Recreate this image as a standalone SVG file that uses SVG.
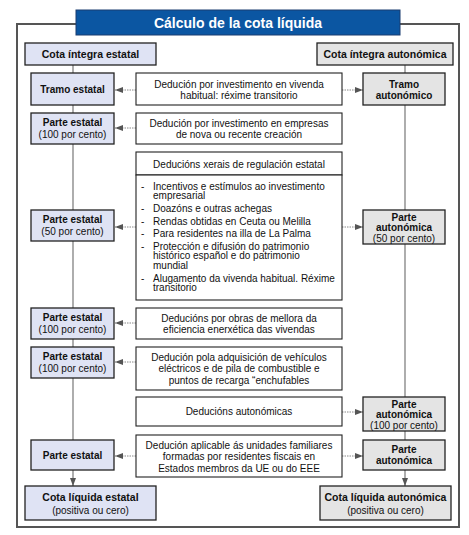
<svg xmlns="http://www.w3.org/2000/svg" width="469" height="535" viewBox="0 0 469 535">
<defs>
<style>
text{font-family:"Liberation Sans",Arial,sans-serif;fill:#111;}
.t{font-size:10px;text-anchor:middle;}
.l{font-size:10px;}
.b{font-size:10px;font-weight:bold;text-anchor:middle;}
.h{font-size:10.5px;font-weight:bold;text-anchor:middle;}
.est{fill:#dfe3f4;stroke:#222;stroke-width:1.3;}
.aut{fill:#e4e4e4;stroke:#222;stroke-width:1.3;}
.ded{fill:#fff;stroke:#222;stroke-width:1.1;}
.v{stroke:#777;stroke-width:1.2;fill:none;}
.d{stroke:#888;stroke-width:1;stroke-dasharray:1.5 1;fill:none;}
</style>
<marker id="ah" viewBox="0 0 8 6" refX="8" refY="3" markerWidth="8" markerHeight="6" markerUnits="userSpaceOnUse" orient="auto">
<path d="M0,0 L8,3 L0,6 z" fill="#555"/>
</marker>
</defs>
<rect width="469" height="535" fill="#fff"/>
<path d="M76,24 H17 V527 H459 V24 H400" fill="none" stroke="#555" stroke-width="2"/>
<g id="title">
<rect x="76" y="10" width="324" height="25" fill="#0b56a2" stroke="#1b3d70" stroke-width="1"/>
<text x="238" y="28" style="font-size:14px;font-weight:bold;fill:#fff;text-anchor:middle">Cálculo de la cota líquida</text>
</g>
<g id="connectors">
<line class="v" x1="73" y1="65" x2="73" y2="486" marker-end="url(#ah)"/>
<line class="v" x1="405" y1="65" x2="405" y2="486" marker-end="url(#ah)"/>
<line class="d" x1="136" y1="90" x2="115" y2="90" marker-end="url(#ah)"/>
<line class="d" x1="342" y1="90" x2="363" y2="90" marker-end="url(#ah)"/>
<line class="d" x1="136" y1="128" x2="115" y2="128" marker-end="url(#ah)"/>
<line class="d" x1="136" y1="227" x2="115" y2="227" marker-end="url(#ah)"/>
<line class="d" x1="342" y1="227" x2="363" y2="227" marker-end="url(#ah)"/>
<line class="d" x1="136" y1="323" x2="115" y2="323" marker-end="url(#ah)"/>
<line class="d" x1="136" y1="362" x2="115" y2="362" marker-end="url(#ah)"/>
<line class="d" x1="342" y1="412" x2="363" y2="412" marker-end="url(#ah)"/>
<line class="d" x1="136" y1="456" x2="115" y2="456" marker-end="url(#ah)"/>
<line class="d" x1="342" y1="456" x2="363" y2="456" marker-end="url(#ah)"/>
</g>
<g id="cota-integra-estatal">
<rect class="est" x="25" y="43" width="131" height="22"/>
<text class="h" x="90.5" y="58">Cota íntegra estatal</text>
</g>
<g id="cota-integra-autonomica">
<rect class="aut" x="317" y="43" width="136" height="22"/>
<text class="h" x="385" y="58">Cota íntegra autonómica</text>
</g>
<g id="tramo-estatal">
<rect class="est" x="31" y="73" width="83" height="32"/>
<text class="b" x="72.5" y="92.5">Tramo estatal</text>
</g>
<g id="tramo-autonomico">
<rect class="aut" x="363" y="73" width="82" height="32"/>
<text class="b" x="404" y="87.5">Tramo</text>
<text class="b" x="404" y="98.5">autonómico</text>
</g>
<g id="ded-vivenda">
<rect class="ded" x="136" y="73" width="206" height="32"/>
<text class="t" x="239" y="87.5">Dedución por investimento en vivenda</text>
<text class="t" x="239" y="98.5">habitual: réxime transitorio</text>
</g>
<g id="parte-estatal-1">
<rect class="est" x="31" y="113" width="83" height="31"/>
<text class="b" x="72.5" y="126">Parte estatal</text>
<text class="t" x="72.5" y="137.5">(100 por cento)</text>
</g>
<g id="ded-empresas">
<rect class="ded" x="136" y="113" width="206" height="31"/>
<text class="t" x="239" y="126.5">Dedución por investimento en empresas</text>
<text class="t" x="239" y="137.5">de nova ou recente creación</text>
</g>
<g id="ded-xerais">
<rect class="ded" x="136" y="152" width="206" height="23"/>
<text class="t" x="239" y="167.5">Deducións xerais de regulación estatal</text>
<rect class="ded" x="136" y="175" width="206" height="125"/>
<g class="l">
<text x="141" y="189.5">-</text><text x="153" y="189.5">Incentivos e estímulos ao investimento</text>
<text x="153" y="199">empresarial</text>
<text x="141" y="212">-</text><text x="153" y="212">Doazóns e outras achegas</text>
<text x="141" y="224.5">-</text><text x="153" y="224.5">Rendas obtidas en Ceuta ou Melilla</text>
<text x="141" y="237">-</text><text x="153" y="237">Para residentes na illa de La Palma</text>
<text x="141" y="249.5">-</text><text x="153" y="249.5">Protección e difusión do patrimonio</text>
<text x="153" y="259">histórico español e do patrimonio</text>
<text x="153" y="268.5">mundial</text>
<text x="141" y="281.5">-</text><text x="153" y="281.5">Alugamento da vivenda habitual. Réxime</text>
<text x="153" y="291">transitorio</text>
</g>
</g>
<g id="parte-estatal-50">
<rect class="est" x="31" y="210" width="83" height="31"/>
<text class="b" x="72.5" y="223">Parte estatal</text>
<text class="t" x="72.5" y="234.5">(50 por cento)</text>
</g>
<g id="parte-autonomica-50">
<rect class="aut" x="363" y="210" width="82" height="34"/>
<text class="b" x="404" y="220.5">Parte</text>
<text class="b" x="404" y="231">autonómica</text>
<text class="t" x="404" y="241.5">(50 por cento)</text>
</g>
<g id="parte-estatal-2">
<rect class="est" x="31" y="308" width="83" height="31"/>
<text class="b" x="72.5" y="321">Parte estatal</text>
<text class="t" x="72.5" y="332.5">(100 por cento)</text>
</g>
<g id="ded-obras">
<rect class="ded" x="136" y="308" width="206" height="31"/>
<text class="t" x="239" y="321.5">Deducións por obras de mellora da</text>
<text class="t" x="239" y="332.5">eficiencia enerxética das vivendas</text>
</g>
<g id="parte-estatal-3">
<rect class="est" x="31" y="347" width="83" height="31"/>
<text class="b" x="72.5" y="360">Parte estatal</text>
<text class="t" x="72.5" y="371.5">(100 por cento)</text>
</g>
<g id="ded-vehiculos">
<rect class="ded" x="136" y="347" width="206" height="43"/>
<text class="t" x="239" y="360.5">Dedución pola adquisición de vehículos</text>
<text class="t" x="239" y="372">eléctricos e de pila de combustible e</text>
<text class="t" x="239" y="383.5">puntos de recarga “enchufables</text>
</g>
<g id="ded-autonomicas">
<rect class="ded" x="136" y="397" width="206" height="29"/>
<text class="t" x="239" y="415">Deducións autonómicas</text>
</g>
<g id="parte-autonomica-100">
<rect class="aut" x="363" y="397" width="82" height="34"/>
<text class="b" x="404" y="407.5">Parte</text>
<text class="b" x="404" y="418">autonómica</text>
<text class="t" x="404" y="428.5">(100 por cento)</text>
</g>
<g id="parte-estatal-4">
<rect class="est" x="31" y="440" width="83" height="30"/>
<text class="b" x="72.5" y="458.5">Parte estatal</text>
</g>
<g id="ded-ue">
<rect class="ded" x="136" y="435" width="206" height="42"/>
<text class="t" x="239" y="448.5">Dedución aplicable ás unidades familiares</text>
<text class="t" x="239" y="460">formadas por residentes fiscais en</text>
<text class="t" x="239" y="471.5">Estados membros da UE ou do EEE</text>
</g>
<g id="parte-autonomica-4">
<rect class="aut" x="363" y="440" width="82" height="30"/>
<text class="b" x="404" y="453">Parte</text>
<text class="b" x="404" y="464">autonómica</text>
</g>
<g id="cota-liquida-estatal">
<rect class="est" x="25" y="486" width="131" height="34"/>
<text class="h" x="90.5" y="500.5">Cota líquida estatal</text>
<text class="t" x="90.5" y="514">(positiva ou cero)</text>
</g>
<g id="cota-liquida-autonomica">
<rect class="aut" x="320" y="486" width="131" height="34"/>
<text class="h" x="385.5" y="500.5">Cota líquida autonómica</text>
<text class="t" x="385.5" y="514">(positiva ou cero)</text>
</g>
</svg>
